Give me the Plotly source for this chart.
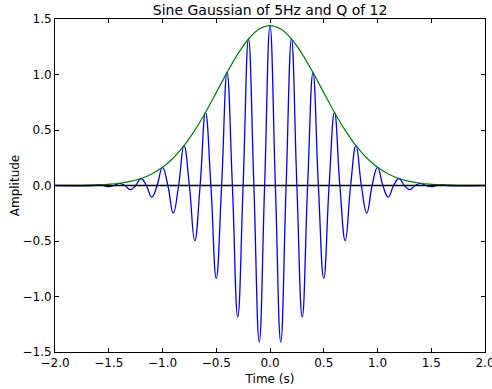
import plotly.graph_objects as go

# Blue sine-gaussian: extrema and zero crossings
sg_t = [-2.0, -1.65, -1.6, -1.55, -1.5, -1.45, -1.4, -1.35, -1.3, -1.25, -1.2, -1.15, -1.1, -1.05,
        -1.0, -0.95, -0.9, -0.85, -0.8, -0.75, -0.7, -0.65, -0.6, -0.55, -0.5, -0.45, -0.4,
        -0.35, -0.3, -0.25, -0.2, -0.15, -0.1, -0.05, 0.0, 0.05, 0.1, 0.15, 0.2, 0.25, 0.3,
        0.35, 0.4, 0.45, 0.5, 0.55, 0.6, 0.65, 0.7, 0.75, 0.8, 0.85, 0.9, 0.95, 1.0, 1.05,
        1.1, 1.15, 1.2, 1.25, 1.3, 1.35, 1.4, 1.45, 1.5, 1.55, 1.6, 1.65, 2.0]
sg_y = [0.0, 0.0, 0.005, 0.0, -0.011, 0.0, 0.02, 0.0, -0.037, 0.0, 0.063, 0.0, -0.104, 0.0,
        0.164, 0.0, -0.248, 0.0, 0.359, 0.0, -0.497, 0.0, 0.658, 0.0, -0.837, 0.0, 1.017,
        0.0, -1.184, 0.0, 1.32, 0.0, -1.409, 0.0, 1.44, 0.0, -1.409, 0.0, 1.32, 0.0, -1.184,
        0.0, 1.017, 0.0, -0.837, 0.0, 0.658, 0.0, -0.497, 0.0, 0.359, 0.0, -0.248, 0.0, 0.164, 0.0,
        -0.104, 0.0, 0.063, 0.0, -0.037, 0.0, 0.02, 0.0, -0.011, 0.0, 0.005, 0.0, 0.0]

# Green envelope
env_t = [-2.0, -1.9, -1.8, -1.7, -1.6, -1.5, -1.4, -1.3, -1.2, -1.1, -1.0, -0.9, -0.8, -0.7,
         -0.6, -0.5, -0.4, -0.3, -0.2, -0.1, 0.0, 0.1, 0.2, 0.3, 0.4, 0.5, 0.6, 0.7, 0.8, 0.9,
         1.0, 1.1, 1.2, 1.3, 1.4, 1.5, 1.6, 1.7, 1.8, 1.9, 2.0]
env_y = [0.0002, 0.0006, 0.0013, 0.0027, 0.0055, 0.011, 0.02, 0.037, 0.063, 0.104, 0.164,
         0.248, 0.359, 0.497, 0.658, 0.837, 1.017, 1.184, 1.32, 1.409, 1.44, 1.409, 1.32,
         1.184, 1.017, 0.837, 0.658, 0.497, 0.359, 0.248, 0.164, 0.104, 0.063, 0.037, 0.02,
         0.011, 0.0055, 0.0027, 0.0013, 0.0006, 0.0002]

zero_t = [-2.0, 2.0]
zero_y = [0.0, 0.0]

x_ticks = [-2.0, -1.5, -1.0, -0.5, 0.0, 0.5, 1.0, 1.5, 2.0]
x_labels = ["\u22122.0", "\u22121.5", "\u22121.0", "\u22120.5", "0.0", "0.5", "1.0", "1.5", "2.0"]
y_ticks = [-1.5, -1.0, -0.5, 0.0, 0.5, 1.0, 1.5]
y_labels = ["\u22121.5", "\u22121.0", "\u22120.5", "0.0", "0.5", "1.0", "1.5"]

fig = go.Figure()
fig.add_trace(go.Scatter(x=sg_t, y=sg_y, mode="lines",
                         line=dict(color="#0000ff", width=1.3, shape="spline", smoothing=1.3)))
fig.add_trace(go.Scatter(x=env_t, y=env_y, mode="lines",
                         line=dict(color="#008000", width=1.2, shape="spline", smoothing=1.0)))
fig.add_trace(go.Scatter(x=zero_t, y=zero_y, mode="lines",
                         line=dict(color="#000000", width=1.3)))

axis_common = dict(showgrid=False, zeroline=False, showline=True, linecolor="black",
                   linewidth=1, mirror="ticks", ticks="inside", ticklen=4, tickwidth=1,
                   tickcolor="black", ticklabeloverflow="allow", automargin=False,
                   tickfont=dict(family="DejaVu Sans", size=12, color="black"))

fig.update_layout(
    width=492, height=389,
    margin=dict(l=55, r=7, t=19, b=37, autoexpand=False),
    paper_bgcolor="white", plot_bgcolor="white",
    showlegend=False,
    title=dict(text="Sine Gaussian of 5Hz and Q of 12", x=0.549, xanchor="center",
               y=0.973, yanchor="middle",
               font=dict(family="DejaVu Sans", size=14, color="black")),
    xaxis=dict(range=[-2, 2.000001], tickvals=x_ticks, ticktext=x_labels,
               title=dict(text="Time (s)", standoff=5,
                          font=dict(family="DejaVu Sans", size=12, color="black")),
               **axis_common),
    yaxis=dict(range=[-1.5, 1.5], tickvals=y_ticks, ticktext=y_labels,
               title=dict(text="Amplitude", standoff=0,
                          font=dict(family="DejaVu Sans", size=12, color="black")),
               **axis_common),
)

fig.write_html("out.html")
